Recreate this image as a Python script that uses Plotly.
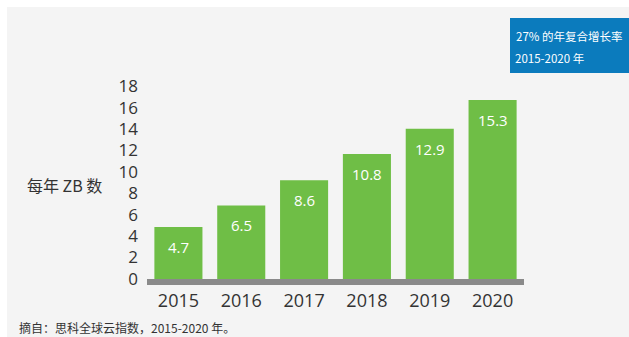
import plotly.graph_objects as go

years = ["2015", "2016", "2017", "2018", "2019", "2020"]
zb = [4.7, 6.5, 8.6, 10.8, 12.9, 15.3]
labels = ["4.7", "6.5", "8.6", "10.8", "12.9", "15.3"]
ytick_vals = [0, 2, 4, 6, 8, 10, 12, 14, 16, 18]

W, H = 629, 337
ML, MR, MT, MB = 147, 105, 75, 58
pw = W - ML - MR
ph = H - MT - MB

def px(x):
    return (x - ML) / pw

def py(y):
    return (H - MB - y) / ph

FONT = "Noto Sans CJK SC, Noto Sans, sans-serif"
NUMFONT = "Open Sans, Noto Sans, sans-serif"
GREEN = "#6fbe46"
BG = "#f4f4f4"
TXT = "#333333"

fig = go.Figure()
fig.add_trace(go.Bar(x=years, y=zb, marker=dict(color=GREEN, line=dict(width=0)),
                     hoverinfo="skip", yaxis="y"))
# invisible trace to host the decorative tick axis
fig.add_trace(go.Scatter(x=[years[0]], y=[0], yaxis="y2", mode="markers",
                         marker=dict(opacity=0), hoverinfo="skip", showlegend=False))

for i, (v, lab) in enumerate(zip(zb, labels)):
    fig.add_annotation(x=i, y=v, xref="x", yref="y", text=lab, showarrow=False, yshift=-20,
                       font=dict(family=NUMFONT, size=15, color="white"))

shapes = [
    dict(type="rect", xref="paper", yref="paper", x0=px(0), x1=px(W), y0=py(0), y1=py(7),
         fillcolor="white", line=dict(width=0), layer="below"),
    dict(type="rect", xref="paper", yref="paper", x0=px(0), x1=px(7), y0=py(H), y1=py(0),
         fillcolor="white", line=dict(width=0), layer="below"),
    dict(type="rect", xref="paper", yref="paper", x0=0, x1=1, y0=py(285), y1=py(279),
         fillcolor="#8a8a8a", line=dict(width=0)),
    dict(type="rect", xref="paper", yref="paper", x0=px(510), x1=px(W), y0=py(73), y1=py(18),
         fillcolor="#0b7bbd", line=dict(width=0)),
]

ann = [
    dict(xref="paper", yref="paper", x=px(514), y=py(36), text="27% 的年复合增长率",
         xanchor="left", yanchor="middle", showarrow=False,
         font=dict(family=FONT, size=11.5, color="white")),
    dict(xref="paper", yref="paper", x=px(513), y=py(58), text="2015-2020 年",
         xanchor="left", yanchor="middle", showarrow=False,
         font=dict(family=FONT, size=11.5, color="white")),
    dict(xref="paper", yref="paper", x=px(64), y=py(185), text="每年 ZB 数",
         xanchor="center", yanchor="middle", showarrow=False,
         font=dict(family=FONT, size=16, color=TXT)),
    dict(xref="paper", yref="paper", x=px(17), y=py(327), text="摘自：思科全球云指数，2015-2020 年。",
         xanchor="left", yanchor="middle", showarrow=False,
         font=dict(family=FONT, size=12, color=TXT)),
]
for a in ann:
    fig.add_annotation(**a)

fig.update_layout(
    width=W, height=H,
    margin=dict(l=ML, r=MR, t=MT, b=MB),
    paper_bgcolor=BG, plot_bgcolor=BG,
    bargap=0.235,
    showlegend=False,
    shapes=shapes,
    font=dict(family=FONT, color=TXT),
    xaxis=dict(type="category", categoryorder="array", categoryarray=years,
               range=[-0.5, len(years) - 0.5], autorange=False,
               showgrid=False, zeroline=False, showline=False, ticks="",
               ticklabelstandoff=9,
               tickfont=dict(family=NUMFONT, size=18, color=TXT), fixedrange=True),
    yaxis=dict(range=[0.36, 17.39], autorange=False, visible=False,
               showgrid=False, zeroline=False, fixedrange=True),
    yaxis2=dict(range=[-0.01, 19.04], autorange=False, overlaying="y", side="left",
                tickvals=ytick_vals, showgrid=False, zeroline=False,
                showline=False, ticks="", ticklabelstandoff=8,
                tickfont=dict(family=NUMFONT, size=17, color=TXT), fixedrange=True),
)

fig.write_html("out.html", config={"displayModeBar": False})
